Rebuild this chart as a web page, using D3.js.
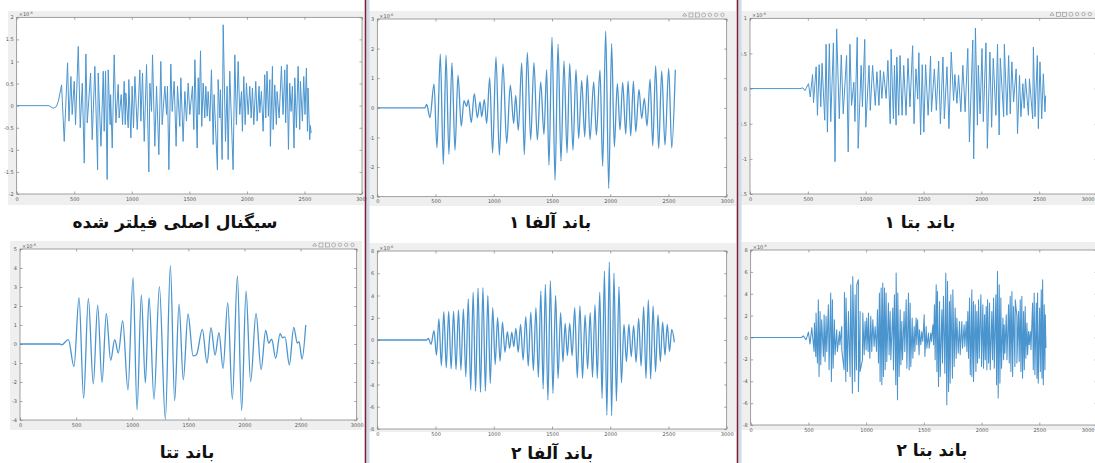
<!DOCTYPE html>
<html><head><meta charset="utf-8">
<script src="https://cdn.jsdelivr.net/npm/d3@7"></script>
<style>
html,body{margin:0;padding:0;background:#fff;}
svg{display:block;}
</style></head><body>
<svg id="chart" width="1095" height="463"></svg>
<script>
// ---- data (sample index, amplitude ×10^-6) ----
const xTicks = [0, 500, 1000, 1500, 2000, 2500, 3000];
const titles = ["سیگنال اصلی فیلتر شده", "باند آلفا ۱", "باند بتا ۱", "باند تتا", "باند آلفا ۲", "باند بتا ۲"];

const yTicksFiltered = [-2, -1.5, -1, -0.5, 0, 0.5, 1, 1.5, 2];
const yTicksAlpha1 = [-3, -2, -1, 0, 1, 2, 3];
const yTicksBeta1 = [-1.5, -1, -0.5, 0, 0.5, 1];
const yTicksTheta = [-4, -3, -2, -1, 0, 1, 2, 3, 4, 5];
const yTicksAlpha2 = [-8, -6, -4, -2, 0, 2, 4, 6, 8];
const yTicksBeta2 = [-8, -6, -4, -2, 0, 2, 4, 6, 8];

const filteredSignal = [[0,0],[280,0],[318,-0.06],[345,-0.02],[362,0.1],[390,0.47],[413,-0.81],[442,0.97],[454,-0.35],[471,0.66],[482,-0.2],[500,0.55],[511,-0.43],[535,1.34],[552,-0.5],[570,0.51],[587,-1.3],[601,1.17],[613,-0.39],[642,0.74],[656,-0.77],[679,0.89],[703,-1.45],[708,0.74],[732,-0.92],[752,0.78],[760,-0.58],[772,0.78],[786,-1.67],[795,0.81],[812,-0.43],[816,0.25],[830,-0.96],[847,1.15],[862,-0.39],[882,0.48],[890,-0.28],[908,0.25],[920,-0.43],[934,0.55],[943,-0.43],[948,0.29],[969,-0.5],[974,0.59],[992,-0.73],[1003,0.44],[1015,-0.5],[1027,0.66],[1047,-0.54],[1070,0.81],[1079,-0.35],[1093,0.74],[1108,-0.81],[1128,0.93],[1148,-1.5],[1157,0.51],[1171,-0.13],[1180,1.15],[1200,-0.92],[1215,0.44],[1235,-1.11],[1252,1.0],[1264,-0.43],[1287,0.44],[1302,-0.2],[1310,0.44],[1322,-1.45],[1339,0.94],[1351,-0.13],[1368,0.55],[1385,-0.92],[1397,0.44],[1417,-0.47],[1426,0.63],[1446,-0.81],[1461,0.32],[1475,-0.35],[1490,0.51],[1504,-0.2],[1527,0.44],[1539,-0.54],[1548,1.04],[1568,-0.96],[1577,0.63],[1585,-0.2],[1597,1.24],[1608,-0.47],[1620,0.51],[1634,-0.28],[1643,0.44],[1655,-0.24],[1663,0.32],[1678,-0.35],[1692,0.81],[1707,-0.88],[1715,0.25],[1744,-1.45],[1750,0.59],[1765,-0.28],[1770,0.36],[1785,-1.22],[1794,1.83],[1814,-0.81],[1828,0.44],[1837,-1.22],[1851,0.78],[1880,-1.45],[1895,1.15],[1909,-0.43],[1924,1.0],[1938,-0.2],[1953,0.32],[1961,-0.58],[1973,0.66],[1985,-0.43],[1996,0.51],[2011,-0.2],[2025,0.44],[2037,-0.28],[2048,0.4],[2060,-0.43],[2077,0.55],[2089,-0.35],[2106,0.44],[2112,-0.16],[2126,0.32],[2141,-0.58],[2155,0.7],[2164,-0.28],[2175,0.78],[2187,-0.24],[2199,0.59],[2204,-0.92],[2222,0.89],[2228,-0.54],[2242,0.47],[2256,-0.43],[2262,0.32],[2280,-0.28],[2300,0.89],[2314,-0.2],[2329,0.81],[2337,-0.39],[2349,0.93],[2361,-0.99],[2372,0.51],[2384,-0.13],[2395,0.44],[2410,-0.96],[2416,0.63],[2430,-0.5],[2445,0.89],[2459,-0.54],[2465,0.55],[2482,-0.35],[2494,0.66],[2505,-0.2],[2517,0.85],[2526,-0.58],[2531,0.4],[2546,-0.77],[2552,-0.45],[2558,-0.62]];

const alpha1 = [[0,0],[409,0],[424,0.12],[452,-0.33],[487,0.8],[512,-1.35],[541,1.81],[567,-1.91],[590,1.78],[615,-1.57],[641,1.52],[667,-1.43],[693,1.1],[721,-0.62],[744,0.24],[767,0.05],[781,0.27],[807,-0.5],[833,0.48],[859,-0.33],[882,0.2],[896,-0.3],[919,0.28],[939,-0.53],[965,1.02],[990,-1.52],[1019,1.72],[1048,-1.6],[1079,1.48],[1111,-1.2],[1142,0.77],[1171,-0.53],[1188,0.42],[1211,-0.76],[1240,1.52],[1262,-1.58],[1288,1.87],[1317,-1.09],[1345,1.53],[1374,-1.09],[1403,0.88],[1431,-0.9],[1454,1.29],[1474,-1.94],[1500,2.38],[1526,-2.44],[1552,2.15],[1577,-1.8],[1603,1.58],[1629,-1.52],[1652,1.5],[1680,-1.43],[1706,1.29],[1729,-1.04],[1755,0.93],[1781,-0.98],[1803,1.1],[1826,-1.07],[1858,0.88],[1881,-0.92],[1912,1.27],[1935,-1.97],[1961,2.59],[1987,-2.72],[2012,2.17],[2035,-1.32],[2061,0.82],[2084,-0.75],[2107,0.86],[2133,-0.89],[2153,0.9],[2176,-0.95],[2199,0.9],[2219,-0.81],[2247,0.62],[2270,-0.36],[2293,0.32],[2316,-0.61],[2342,0.97],[2365,-1.28],[2390,1.42],[2416,-1.37],[2442,1.25],[2470,-1.26],[2502,1.33],[2528,-1.35],[2559,1.29]];

const beta1 = [[0,0],[432,0],[458,0.01],[475,-0.03],[506,0.07],[521,-0.12],[541,0.2],[549,-0.2],[572,0.31],[583,-0.38],[598,0.34],[612,-0.26],[623,0.36],[646,-0.45],[658,0.63],[669,-0.62],[686,0.64],[698,-0.47],[721,0.65],[735,-1.04],[749,0.85],[772,-0.43],[789,0.48],[806,-0.36],[835,0.47],[849,-0.9],[864,0.63],[878,-0.24],[898,0.09],[907,-0.47],[927,0.73],[935,-0.85],[961,0.33],[972,-0.26],[992,0.7],[1001,-0.55],[1029,0.33],[1040,-0.31],[1060,0.33],[1083,-0.24],[1097,0.24],[1115,-0.24],[1126,0.26],[1140,-0.14],[1155,0.24],[1177,-0.14],[1192,0.4],[1212,-0.5],[1220,0.56],[1240,-0.43],[1249,0.33],[1263,-0.52],[1269,0.45],[1286,-0.38],[1297,0.47],[1315,-0.38],[1329,0.33],[1349,-0.38],[1366,0.43],[1383,-0.26],[1406,0.61],[1418,-0.5],[1435,0.28],[1450,-0.15],[1460,0.51],[1475,-0.66],[1489,0.34],[1503,-0.62],[1518,0.34],[1540,-0.38],[1561,0.46],[1569,-0.33],[1594,0.28],[1611,-0.31],[1631,0.39],[1646,-0.5],[1668,0.45],[1680,-0.43],[1703,0.31],[1720,-0.57],[1740,0.52],[1760,-0.17],[1771,0.2],[1789,-0.21],[1803,0.19],[1823,-0.33],[1840,0.33],[1860,-0.33],[1883,0.57],[1897,-0.76],[1926,0.69],[1934,-1.0],[1949,0.86],[1966,-0.52],[1974,0.33],[1989,-0.36],[2006,0.57],[2017,-0.47],[2040,0.65],[2052,-0.85],[2074,0.52],[2089,-0.55],[2103,0.43],[2126,-0.38],[2140,0.63],[2154,-0.66],[2164,0.43],[2193,-0.4],[2199,0.63],[2221,-0.38],[2236,0.47],[2250,-0.36],[2264,0.38],[2279,-0.19],[2301,0.28],[2313,-0.64],[2330,0.19],[2342,-0.4],[2359,0.07],[2370,-0.28],[2382,0.14],[2407,-0.38],[2416,0.14],[2444,-0.43],[2450,0.59],[2464,-0.4],[2484,0.47],[2493,-0.57],[2507,0.38],[2522,-0.43],[2536,0.21],[2550,-0.33],[2556,-0.1]];

const theta = [[0,0],[356,0],[371,-0.05],[431,0.23],[481,-1.19],[526,2.44],[567,-2.86],[609,2.4],[653,-2.1],[692,2.05],[731,-2.02],[769,1.61],[808,-0.86],[844,0.23],[876,-0.47],[915,1.21],[962,-2.42],[1007,3.49],[1043,-3.47],[1081,2.58],[1117,-2.04],[1150,2.44],[1194,-2.91],[1242,3.02],[1295,-3.96],[1340,4.12],[1378,-2.98],[1417,2.1],[1455,-1.89],[1497,1.58],[1542,-0.63],[1572,-0.56],[1625,0.77],[1666,-1.0],[1702,0.86],[1738,-0.58],[1773,0.6],[1809,-1.28],[1851,2.18],[1892,-2.91],[1937,3.58],[1975,-3.51],[2014,2.79],[2055,-1.98],[2103,1.61],[2148,-1.35],[2189,0.72],[2216,0.05],[2243,0.25],[2278,-0.75],[2317,0.54],[2340,0.33],[2361,0.38],[2400,-1.1],[2439,0.88],[2471,0.05],[2486,0.12],[2513,-0.79],[2546,1.0]];

const alpha2 = [[0,0],[424,0],[438,0.15],[461,-0.39],[487,0.84],[508,-1.35],[529,1.9],[550,-2.3],[571,2.55],[592,-2.5],[613,2.57],[634,-2.6],[655,2.6],[676,-2.65],[697,2.7],[718,-2.7],[739,2.8],[760,-3.3],[781,3.7],[802,-4.5],[823,4.3],[844,-4.6],[865,4.65],[886,-4.7],[907,4.7],[928,-4.6],[949,4.0],[970,-3.9],[991,2.9],[1012,-2.2],[1033,2.0],[1054,-1.9],[1075,1.6],[1096,-1.1],[1117,0.75],[1136,-0.75],[1155,0.7],[1172,-0.6],[1190,1.05],[1210,-1.1],[1230,1.4],[1252,-1.8],[1275,2.1],[1296,-2.35],[1318,2.5],[1340,-2.75],[1362,2.9],[1383,-3.35],[1404,4.4],[1424,-4.4],[1443,5.0],[1465,-5.4],[1486,5.33],[1508,-4.8],[1531,4.0],[1552,-3.45],[1574,2.45],[1594,-1.95],[1613,1.5],[1632,-1.4],[1652,1.5],[1673,-1.4],[1695,2.9],[1717,-3.4],[1740,3.05],[1762,-3.45],[1784,2.25],[1806,-2.6],[1828,2.45],[1848,-3.35],[1869,3.15],[1889,-3.45],[1910,4.3],[1930,-5.25],[1950,6.2],[1971,-6.75],[1992,7.0],[2012,-6.8],[2032,6.0],[2053,-5.5],[2075,4.8],[2096,-3.85],[2118,1.4],[2139,-1.95],[2160,1.4],[2180,-1.5],[2201,1.3],[2222,-2.0],[2244,1.95],[2265,-2.35],[2287,3.0],[2307,-3.45],[2327,3.6],[2347,-3.5],[2368,3.05],[2389,-2.85],[2410,2.25],[2430,-1.95],[2450,1.6],[2470,-1.35],[2490,1.4],[2509,-1.05],[2528,0.95],[2551,-0.2]];

const beta2Onset = [[0,0],[440,0],[456,0.15],[480,-0.2],[500,0.5],[514,-0.6],[529,0.9]];
const beta2Peaks = [[552,1.32],[566,2.23],[586,3.45],[601,2.38],[615,1.62],[636,2.08],[653,1.93],[673,2.99],[693,4.06],[708,3.45],[725,1.62],[745,0.71],[769,0.55],[789,1.01],[812,4.12],[826,3.6],[847,2.38],[867,4.82],[884,5.58],[904,3.91],[919,4.82],[933,5.28],[948,2.38],[971,2.23],[991,1.47],[1005,1.77],[1020,2.23],[1040,1.93],[1058,1.62],[1078,1.01],[1098,2.54],[1115,4.06],[1130,4.52],[1144,4.97],[1159,4.52],[1173,4.06],[1193,3.15],[1208,2.38],[1231,2.69],[1245,3.91],[1260,5.89],[1274,4.06],[1295,2.54],[1309,1.47],[1329,2.38],[1347,3.45],[1367,4.06],[1381,3.15],[1399,1.77],[1416,1.01],[1433,1.77],[1445,1.62],[1462,0.71],[1482,0.55],[1503,2.08],[1520,1.01],[1540,0.4],[1560,0.4],[1578,1.16],[1592,2.99],[1607,4.82],[1618,4.21],[1636,3.3],[1656,2.54],[1670,3.77],[1690,5.89],[1705,5.13],[1722,3.3],[1734,3.91],[1751,4.36],[1771,2.69],[1786,1.77],[1809,1.47],[1829,1.47],[1849,1.16],[1867,1.47],[1881,2.38],[1896,3.6],[1916,4.36],[1930,3.3],[1945,2.99],[1959,2.38],[1974,3.45],[1994,3.91],[2011,2.99],[2026,2.08],[2040,2.84],[2052,3.45],[2069,3.15],[2089,2.38],[2104,3.6],[2124,3.91],[2138,6.04],[2153,4.82],[2167,3.6],[2185,1.77],[2196,1.16],[2214,2.08],[2234,2.99],[2248,3.77],[2263,4.21],[2277,2.84],[2292,3.45],[2306,1.93],[2320,2.38],[2335,3.45],[2349,3.77],[2364,2.38],[2378,2.84],[2393,1.32],[2407,0.55],[2422,0.55],[2442,3.15],[2456,4.06],[2474,3.15],[2485,4.06],[2503,2.69],[2517,4.36],[2529,5.28],[2543,2.99],[2552,2.08]];
const beta2Troughs = [[549,-1.28],[564,-1.73],[578,-2.34],[592,-3.56],[607,-2.5],[630,-1.73],[644,-2.19],[659,-1.28],[679,-2.95],[699,-4.02],[714,-2.8],[731,-1.58],[751,-1.28],[772,-0.67],[789,-1.12],[809,-2.95],[824,-4.02],[838,-3.11],[861,-3.56],[881,-5.09],[902,-4.02],[916,-2.95],[933,-4.93],[948,-3.11],[968,-2.04],[983,-1.58],[1000,-1.12],[1017,-1.28],[1032,-1.89],[1049,-1.28],[1069,-0.82],[1090,-1.28],[1107,-2.34],[1121,-4.02],[1136,-4.32],[1150,-3.56],[1165,-2.95],[1179,-2.19],[1199,-1.58],[1214,-2.04],[1237,-2.95],[1257,-4.32],[1272,-5.7],[1286,-3.56],[1301,-2.5],[1315,-2.04],[1335,-1.28],[1353,-2.8],[1373,-2.95],[1387,-2.65],[1405,-1.89],[1422,-1.28],[1439,-0.67],[1459,-1.58],[1474,-0.67],[1491,-0.36],[1509,-1.73],[1526,-0.97],[1546,-0.97],[1566,-0.36],[1584,-0.67],[1598,-2.04],[1613,-3.11],[1627,-4.48],[1642,-3.56],[1662,-2.34],[1682,-3.26],[1699,-6.15],[1714,-4.93],[1728,-4.17],[1748,-3.72],[1763,-2.65],[1780,-1.89],[1798,-1.43],[1815,-1.58],[1835,-0.97],[1855,-0.82],[1873,-1.28],[1887,-1.89],[1902,-3.41],[1916,-3.56],[1930,-4.02],[1951,-3.11],[1965,-2.34],[1980,-1.89],[2000,-2.65],[2017,-2.8],[2032,-2.04],[2046,-2.95],[2061,-2.34],[2075,-2.95],[2095,-2.04],[2110,-2.8],[2130,-4.32],[2144,-5.54],[2159,-4.17],[2173,-2.8],[2191,-2.04],[2202,-1.43],[2220,-2.04],[2240,-2.34],[2254,-3.11],[2269,-3.56],[2289,-2.65],[2306,-2.34],[2326,-2.19],[2341,-3.11],[2355,-3.72],[2370,-2.95],[2384,-1.89],[2399,-1.58],[2413,-0.67],[2428,-1.12],[2448,-2.95],[2462,-3.41],[2480,-3.72],[2491,-4.17],[2509,-3.11],[2523,-3.72],[2535,-4.32],[2549,-2.95],[2558,-0.97]];

// ---- drawing ----
const beta2 = beta2Onset.concat(d3.sort(beta2Peaks.concat(beta2Troughs), d => d[0]));

const svg = d3.select("#chart");
const LINE = "#4b95cf";
const FONT = "'DejaVu Sans', sans-serif";

const panels = [
  { series: filteredSignal, yTicks: yTicksFiltered, curve: d3.curveLinear, width: 1.0,
    fig: [8, 11, 364, 205], box: [16.7, 17.3, 362, 194], title: [175, 228], tools: false },
  { series: alpha1, yTicks: yTicksAlpha1, curve: d3.curveMonotoneX, width: 1.3,
    fig: [367, 11, 736, 206], box: [377.3, 19, 726.7, 196.7], title: [550, 228], tools: true },
  { series: beta1, yTicks: yTicksBeta1, curve: d3.curveLinear, width: 1.0,
    fig: [739, 11, 1095, 205], box: [750, 18.3, 1097, 194], title: [920, 228], tools: true },
  { series: theta, yTicks: yTicksTheta, curve: d3.curveMonotoneX, width: 1.3,
    fig: [10, 241, 362, 430], box: [20, 249, 356.7, 420], title: [187, 458], tools: true },
  { series: alpha2, yTicks: yTicksAlpha2, curve: d3.curveMonotoneX, width: 1.3,
    fig: [367, 243, 736, 432], box: [377.3, 251, 726.7, 429], title: [552, 459], tools: false },
  { series: beta2, yTicks: yTicksBeta2, curve: d3.curveLinear, width: 1.05,
    fig: [739, 242, 1095, 430], box: [750.7, 250, 1097, 425], title: [932, 456], tools: false }
];

panels.forEach((p, i) => {
  const [fx0, fy0, fx1, fy1] = p.fig;
  const [x0, y0, x1, y1] = p.box;
  const g = svg.append("g");

  // figure background
  g.append("rect").attr("x", fx0).attr("y", fy0).attr("width", fx1 - fx0).attr("height", fy1 - fy0)
    .attr("fill", "#efefef");

  const x = d3.scaleLinear().domain([xTicks[0], xTicks[xTicks.length - 1]]).range([x0, x1]);
  const y = d3.scaleLinear().domain(d3.extent(p.yTicks)).range([y1, y0]);

  // axes area
  g.append("rect").attr("x", x0).attr("y", y0).attr("width", x1 - x0).attr("height", y1 - y0)
    .attr("fill", "#fff");

  const clipId = "clip" + i;
  svg.append("clipPath").attr("id", clipId).append("rect")
    .attr("x", x0).attr("y", y0).attr("width", x1 - x0).attr("height", y1 - y0);

  // signal trace
  g.append("path").datum(p.series)
    .attr("clip-path", `url(#${clipId})`)
    .attr("fill", "none").attr("stroke", LINE).attr("stroke-width", p.width)
    .attr("stroke-linejoin", "round")
    .attr("d", d3.line().x(d => x(d[0])).y(d => y(d[1])).curve(p.curve));

  // axes with inward ticks on all four sides
  const tick = 2.5;
  const axisStyle = sel => {
    sel.select(".domain").remove();
    sel.selectAll("line").attr("stroke", "#6e6e6e").attr("stroke-width", 0.6);
    sel.selectAll("text").attr("fill", "#555").style("font-family", FONT).style("font-size", "5px");
  };
  const bottom = g.append("g").attr("transform", `translate(0,${y1})`)
    .call(d3.axisBottom(x).tickValues(xTicks).tickSize(-tick).tickPadding(3).tickFormat(d3.format("d")))
    .call(axisStyle);
  // keep the last tick label inside the window when the axes run to its edge
  if (x1 > 1090) {
    bottom.selectAll(".tick text").filter(d => d === xTicks[xTicks.length - 1])
      .attr("text-anchor", "end").attr("dx", 1094 - x1);
  }
  g.append("g").attr("transform", `translate(0,${y0})`)
    .call(d3.axisTop(x).tickValues(xTicks).tickSize(-tick).tickFormat(""))
    .call(axisStyle);
  g.append("g").attr("transform", `translate(${x0},0)`)
    .call(d3.axisLeft(y).tickValues(p.yTicks).tickSize(-tick).tickPadding(3).tickFormat(d => String(d)))
    .call(axisStyle);
  g.append("g").attr("transform", `translate(${x1},0)`)
    .call(d3.axisRight(y).tickValues(p.yTicks).tickSize(-tick).tickFormat(""))
    .call(axisStyle);

  // axes frame
  g.append("rect").attr("x", x0).attr("y", y0).attr("width", x1 - x0).attr("height", y1 - y0)
    .attr("fill", "none").attr("stroke", "#7a7a7a").attr("stroke-width", 0.7);

  // exponent label
  const ex = g.append("text").attr("x", x0 + 2).attr("y", y0 - 1.5)
    .attr("fill", "#555").style("font-family", FONT).style("font-size", "5px");
  ex.append("tspan").text("×10");
  ex.append("tspan").attr("dy", -2).style("font-size", "3.5px").text("-6");

  // small figure toolbar
  if (p.tools) {
    const tb = g.append("g").attr("transform", `translate(${Math.min(x1, 1094) - 44},${y0 - 6})`)
      .attr("fill", "none").attr("stroke", "#8c8c8c").attr("stroke-width", 0.6);
    for (let k = 0; k < 7; k++) {
      const cx = k * 6.3 + 2;
      if (k === 0) tb.append("path").attr("d", `M${cx - 2},3 L${cx},0 L${cx + 2},3 Z`);
      else if (k === 1 || k === 2) tb.append("rect").attr("x", cx - 2).attr("y", 0).attr("width", 4).attr("height", 4);
      else if (k === 3) tb.append("circle").attr("cx", cx).attr("cy", 2).attr("r", 2);
      else tb.append("circle").attr("cx", cx).attr("cy", 1.8).attr("r", 1.7);
    }
  }

  // title
  svg.append("text").attr("x", p.title[0]).attr("y", p.title[1])
    .attr("text-anchor", "middle").attr("direction", "rtl")
    .style("font-family", FONT).style("font-weight", "bold").style("font-size", "17px")
    .attr("fill", "#111").text(titles[i]);
});

// window separators
[365.5, 737.5].forEach(sx => {
  svg.append("rect").attr("x", sx + 1).attr("y", 0).attr("width", 3).attr("height", 463).attr("fill", "#cfdaea");
  svg.append("line").attr("x1", sx).attr("x2", sx).attr("y1", 0).attr("y2", 463)
    .attr("stroke", "#7a2233").attr("stroke-width", 1.6);
});
</script>
</body></html>
